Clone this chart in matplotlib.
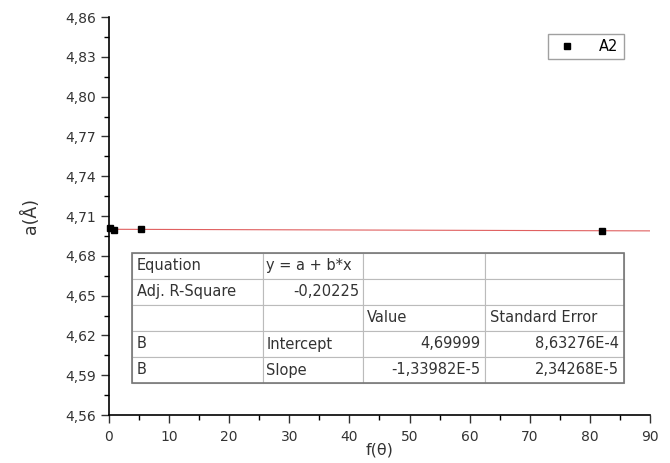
import numpy as np
import matplotlib
matplotlib.use("Agg")
import matplotlib.pyplot as plt
from matplotlib.ticker import MultipleLocator, FuncFormatter

# data points (A2)
x_pts = [0.2, 0.8, 5.3, 82.0]
y_pts = [4.7013, 4.6994, 4.7000, 4.6990]

# linear fit y = a + b*x
fit_a = 4.69999
fit_b = -1.33982e-5
fit_x = [0, 90]

table_rows = [
    ["Equation", "y = a + b*x", "", ""],
    ["Adj. R-Square", "-0,20225", "", ""],
    ["", "", "Value", "Standard Error"],
    ["B", "Intercept", "4,69999", "8,63276E-4"],
    ["B", "Slope", "-1,33982E-5", "2,34268E-5"],
]
col_widths = [131, 100, 122, 139]

plt.rcParams['font.family'] = ['DejaVu Sans']

fig = plt.figure(figsize=(6.7, 4.63), dpi=100)
ax = fig.add_axes([109/670, 1-415/463, 541/670, 398/463])

fy = [fit_a + fit_b*v for v in fit_x]
ax.plot(fit_x, fy, color='#e06060', lw=0.8, zorder=2)
ax.plot(x_pts, y_pts, 's', color='black', ms=5, label='A2', zorder=3, clip_on=False)

ax.set_xlim(0, 90)
ax.set_ylim(4.56, 4.86)
ax.xaxis.set_major_locator(MultipleLocator(10))
ax.xaxis.set_minor_locator(MultipleLocator(5))
ax.yaxis.set_major_locator(MultipleLocator(0.03))
ax.yaxis.set_minor_locator(MultipleLocator(0.015))
ax.yaxis.set_major_formatter(FuncFormatter(lambda v, p: f"{v:.2f}".replace('.', ',')))
ax.xaxis.set_major_formatter(FuncFormatter(lambda v, p: f"{v:.0f}"))

for s in ['top', 'right']:
    ax.spines[s].set_visible(False)
for s in ['left', 'bottom']:
    ax.spines[s].set_linewidth(1.2)
ax.tick_params(which='major', direction='out', length=6, width=1, labelsize=10, colors='#333333')
ax.tick_params(axis='x', which='major', pad=5)
ax.tick_params(which='minor', direction='out', length=3.5, width=1)

ax.set_ylabel("a(Å)", fontsize=12.5, color='#333333', labelpad=18)
ax.set_xlabel("f(θ)", fontsize=11.5, color='#333333', labelpad=-1)

leg = ax.legend(loc='upper right', bbox_to_anchor=(0.965, 0.975), fontsize=10.5,
                frameon=True, fancybox=False, edgecolor='#888888',
                handletextpad=1.2, borderpad=0.35, markerscale=0.9)

tot = sum(col_widths)
tbl = ax.table(cellText=table_rows, colWidths=[w/541 for w in col_widths],
               cellLoc='left', bbox=[23/541, 32/398, tot/541, 130/398], zorder=5)
tbl.auto_set_font_size(False)
tbl.set_fontsize(10.5)
for (r, c), cell in tbl.get_celld().items():
    cell.set_edgecolor('#bbbbbb')
    cell.set_linewidth(0.8)
    cell.set_facecolor('white')
    txt = cell.get_text()
    txt.set_color('#333333')
    num = r in (3, 4) and c >= 2 or (r == 1 and c == 1)
    cell.PAD = 0.035
    if num:
        cell._loc = 'right'
        txt.set_horizontalalignment('right')

outer = plt.Rectangle((23/541, 32/398), tot/541, 130/398, transform=ax.transAxes,
                      fill=False, edgecolor='#777777', lw=1.2, zorder=6)
ax.add_patch(outer)

fig.savefig("out.png", dpi=100)
